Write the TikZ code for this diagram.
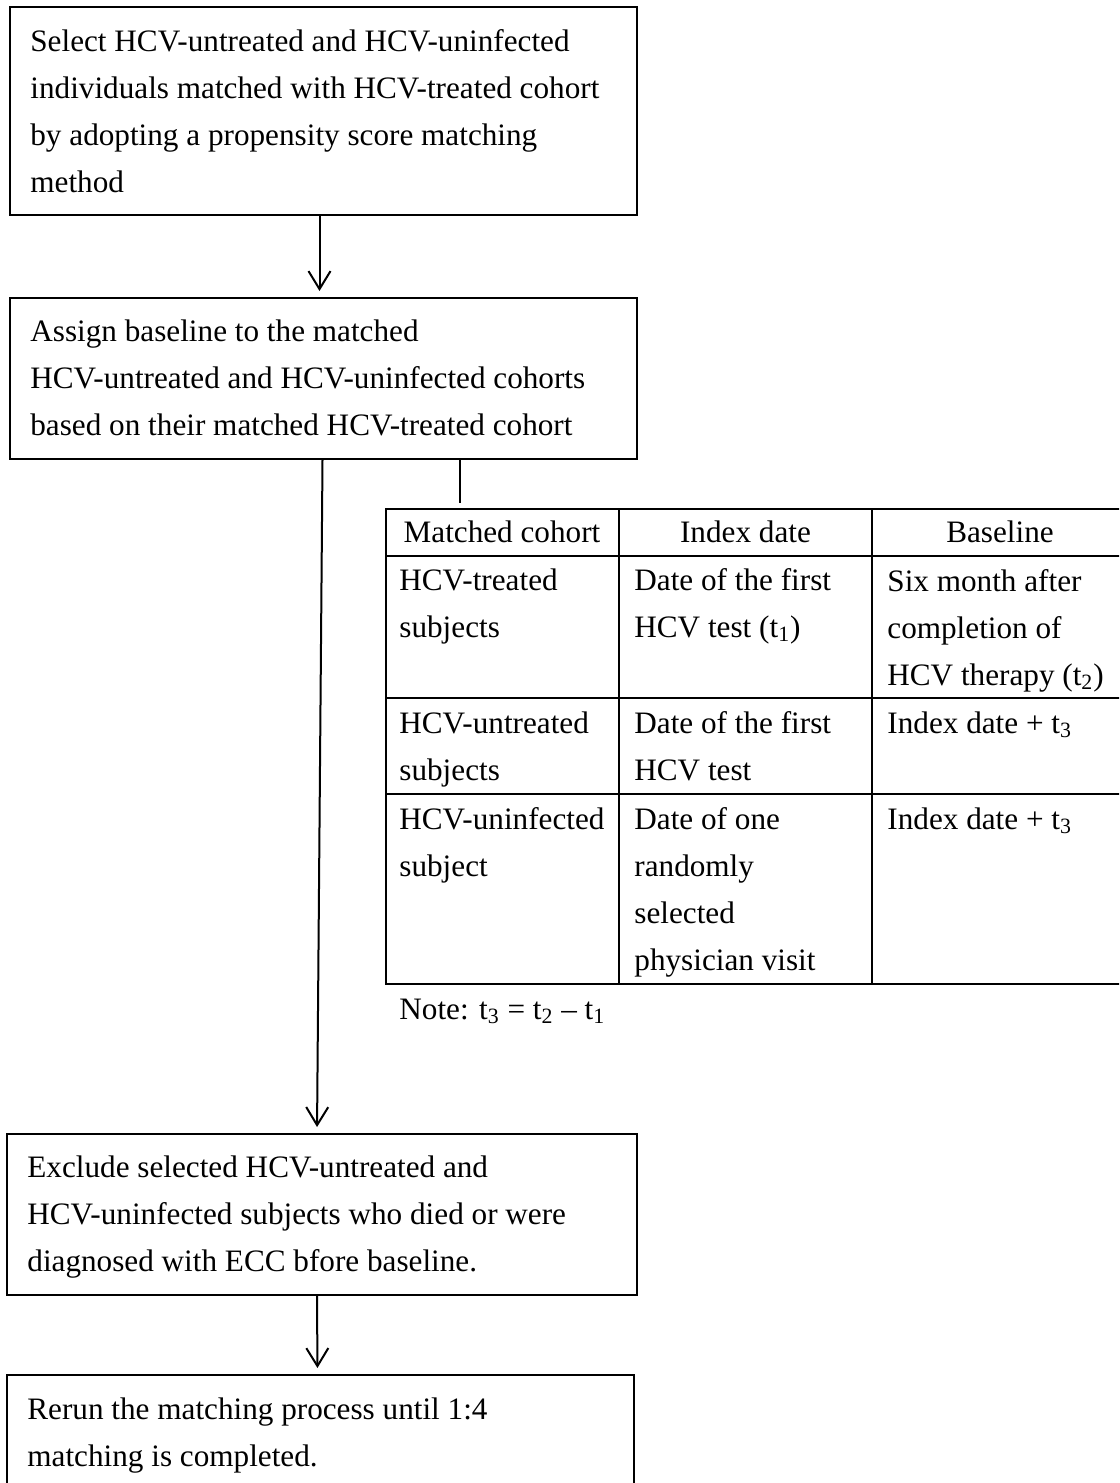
\documentclass[tikz,border=0pt]{standalone}
\usepackage{fontspec}
\setmainfont{Liberation Serif}
\usetikzlibrary{arrows.meta,calc}
\begin{document}
\begin{tikzpicture}[x=0.5pt,y=-0.5pt,
  txt/.style={font=\fontsize{15.6pt}{23.5pt}\selectfont, inner sep=0pt, align=left, anchor=base west},
  hdr/.style={font=\fontsize{15.6pt}{23.5pt}\selectfont, inner sep=0pt, anchor=base},
  box/.style={draw, line width=1pt, inner sep=0pt, anchor=north west},
  grid/.style={line width=0.75pt},
  conn/.style={line width=1pt},
  arr/.style={line width=1pt, -{Straight Barb[length=9pt,width=11pt]}, shorten >=3pt}]
\useasboundingbox (0,0) rectangle (1119,1483);
\clip (0,0) rectangle (1119,1483);
% flow boxes
\node[box, minimum width=313.5pt, minimum height=104pt] (b1) at (9,6) {};
\node[box, minimum width=313.5pt, minimum height=80.5pt] (b2) at (9,297) {};
\node[box, minimum width=315pt, minimum height=80.5pt] (b3) at (6,1133) {};
\node[box, minimum width=313.5pt, minimum height=68pt] (b4) at (6,1374) {};
% texts (anchored at the baseline of their last line)
\node[txt] (t1) at (30,192) {Select HCV-untreated and HCV-uninfected\\individuals matched with HCV-treated cohort\\by adopting a propensity score matching\\method};
\node[txt] (t2) at (30,435) {Assign baseline to the matched\\HCV-untreated and HCV-uninfected cohorts\\based on their matched HCV-treated cohort};
\node[txt] (t3) at (27,1271) {Exclude selected HCV-untreated and\\HCV-uninfected subjects who died or were\\diagnosed with ECC bfore baseline.};
\node[txt] (t4) at (27,1466) {Rerun the matching process until 1:4\\matching is completed.};
% table
\node[draw, grid, inner sep=0pt, anchor=north west, minimum width=371.5pt, minimum height=237.5pt] (tbl) at (385,508) {};
\draw[grid] (619,508) -- (619,983);
\draw[grid] (872,508) -- (872,983);
\draw[grid] (385,556) -- (1130,556);
\draw[grid] (385,698) -- (1130,698);
\draw[grid] (385,794) -- (1130,794);
\node[hdr] (h1) at (502,542) {Matched cohort};
\node[hdr] (h2) at (745.5,542) {Index date};
\node[hdr] (h3) at (1000,542) {Baseline};
\node[txt] (c11) at (399,637) {HCV-treated\\subjects};
\node[txt] (c12) at (634,637) {Date of the first\\HCV test (t\textsubscript{1})};
\node[txt] (c13) at (887,685) {Six month after\\completion of\\HCV therapy (t\textsubscript{2})};
\node[txt] (c21) at (399,780) {HCV-untreated\\subjects};
\node[txt] (c22) at (634,780) {Date of the first\\HCV test};
\node[txt] (c23) at (887,733) {Index date + t\textsubscript{3}};
\node[txt] (c31) at (399,876) {HCV-uninfected\\subject};
\node[txt] (c32) at (634,970) {Date of one\\randomly\\selected\\physician visit};
\node[txt] (c33) at (887,829) {Index date + t\textsubscript{3}};
\node[txt] (note) at (399,1019) {Note: t\textsubscript{3} = t\textsubscript{2} -- t\textsubscript{1}};
% connectors
\coordinate (tcon) at (460,503);
\draw[conn] (b2.south -| tcon) -- (tcon);
\draw[arr] ($(b1.south)+(-4,0)$) -- ($(b2.north)+(-4,0)$);
\draw[arr] ($(b2.south)+(-1,0)$) -- ($(b3.north)+(-5,0)$);
\draw[arr] ($(b3.south)+(-5,0)$) -- ($(b4.north)+(-3,0)$);
\end{tikzpicture}
\end{document}
